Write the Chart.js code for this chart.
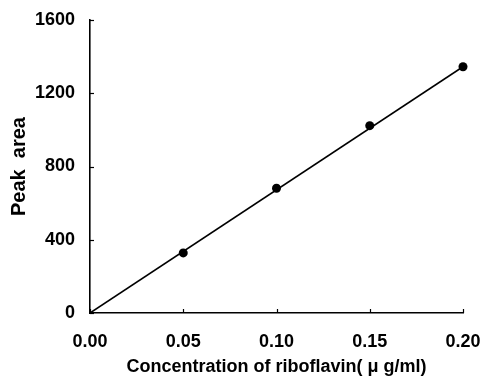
<!DOCTYPE html>
<html>
<head>
<meta charset="utf-8">
<script src="https://cdn.jsdelivr.net/npm/chart.js@4/dist/chart.umd.min.js"></script>
<style>
  html, body { margin: 0; padding: 0; background: #fff; }
  #wrap { width: 481px; height: 378px; }
</style>
</head>
<body>
<div id="wrap"><canvas id="calib"></canvas></div>
<script>
// calibration data
const concentration = [0.05, 0.10, 0.15, 0.20];
const peakArea = [328, 681, 1023, 1345];
// fitted line end points
const fitX = [0.00, 0.20];
const fitY = [0, 1345];
const xTicks = [0.00, 0.05, 0.10, 0.15, 0.20];
const yTicks = [0, 400, 800, 1200, 1600];

const fontFam = "'Liberation Sans', Arial, sans-serif";

// small tick marks pointing into the plot
const innerTicks = {
  id: 'innerTicks',
  afterDraw(chart) {
    const ctx = chart.ctx;
    const xs = chart.scales.x, ys = chart.scales.y;
    ctx.save();
    ctx.strokeStyle = '#000';
    ctx.lineWidth = 1.2;
    xTicks.forEach(v => {
      const px = Math.round(xs.getPixelForValue(v)) + 0.5;
      ctx.beginPath();
      ctx.moveTo(px, ys.bottom);
      ctx.lineTo(px, ys.bottom - 4);
      ctx.stroke();
    });
    yTicks.forEach(v => {
      const py = Math.round(ys.getPixelForValue(v)) + 0.5;
      ctx.beginPath();
      ctx.moveTo(xs.left, py);
      ctx.lineTo(xs.left + 4, py);
      ctx.stroke();
    });
    ctx.restore();
  }
};

new Chart(document.getElementById('calib'), {
  type: 'scatter',
  data: {
    datasets: [{
      label: 'fit',
      data: fitX.map((x, i) => ({ x: x, y: fitY[i] })),
      showLine: true,
      borderColor: '#000',
      borderWidth: 1.6,
      pointRadius: 0,
      fill: false
    }, {
      label: 'Peak area',
      data: concentration.map((x, i) => ({ x: x, y: peakArea[i] })),
      showLine: false,
      backgroundColor: '#000',
      borderColor: '#000',
      pointRadius: 4.5,
      pointBorderWidth: 0,
      clip: false
    }]
  },
  options: {
    responsive: true,
    maintainAspectRatio: false,
    animation: false,
    layout: { padding: { top: 20, right: 18, left: 0, bottom: 0 } },
    plugins: {
      legend: { display: false },
      tooltip: { enabled: false }
    },
    scales: {
      x: {
        type: 'linear',
        min: 0, max: 0.2,
        afterBuildTicks(s) { s.ticks = xTicks.map(v => ({ value: v })); },
        afterFit(s) { s.height = 65; s.paddingLeft = 0; s.paddingRight = 0; },
        grid: { display: false, drawTicks: false },
        border: { display: true, color: '#000', width: 1.6 },
        ticks: {
          color: '#000',
          padding: 18,
          maxRotation: 0,
          font: { family: fontFam, size: 18, weight: 'bold' },
          callback: v => v.toFixed(2)
        },
        title: {
          display: true,
          text: 'Concentration of riboflavin( μ g/ml)',
          color: '#000',
          padding: { top: 4, bottom: 0 },
          font: { family: fontFam, size: 18, weight: 'bold' }
        }
      },
      y: {
        type: 'linear',
        min: 0, max: 1600,
        afterBuildTicks(s) { s.ticks = yTicks.map(v => ({ value: v })); },
        afterFit(s) { s.width = 90; s.paddingTop = 0; s.paddingBottom = 0; },
        grid: { display: false, drawTicks: false },
        border: { display: true, color: '#000', width: 1.6 },
        ticks: {
          color: '#000',
          padding: 15,
          font: { family: fontFam, size: 18, weight: 'bold' },
          callback: v => String(v)
        },
        title: {
          display: true,
          text: 'Peak  area',
          color: '#000',
          padding: { top: 7, bottom: 0 },
          font: { family: fontFam, size: 20, weight: 'bold' }
        }
      }
    }
  },
  plugins: [innerTicks]
});
</script>
</body>
</html>
